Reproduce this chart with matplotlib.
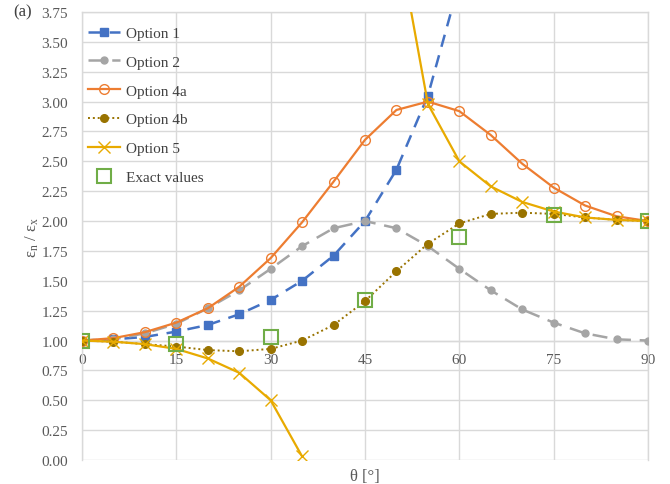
import numpy as np
import matplotlib
matplotlib.use("Agg")
import matplotlib.pyplot as plt

plt.rcParams['font.family'] = ['Liberation Serif', 'DejaVu Serif']
plt.rcParams['mathtext.fontset'] = 'custom'
plt.rcParams['mathtext.rm'] = 'Liberation Serif'
plt.rcParams['mathtext.it'] = 'Liberation Serif:italic'

theta = [0, 5, 10, 15, 20, 25, 30, 35, 40, 45, 50, 55, 60, 65, 70, 75, 80, 85, 90]
nan = np.nan

opt1 = [1.00, 1.01, 1.03, 1.075, 1.13, 1.22, 1.34, 1.50, 1.71, 2.00, 2.43, 3.05, 4.00,
        nan, nan, nan, nan, nan, nan]
opt2 = [1.00, 1.01, 1.06, 1.14, 1.27, 1.42, 1.60, 1.79, 1.94, 2.00, 1.94, 1.79, 1.60,
        1.42, 1.26, 1.15, 1.06, 1.01, 1.00]
opt4a = [1.00, 1.02, 1.07, 1.15, 1.27, 1.45, 1.69, 1.99, 2.33, 2.68, 2.93, 3.00, 2.92,
         2.72, 2.48, 2.28, 2.13, 2.04, 2.00]
opt4b = [1.00, 0.99, 0.97, 0.95, 0.92, 0.91, 0.93, 1.00, 1.13, 1.33, 1.58, 1.81, 1.98,
         2.06, 2.07, 2.06, 2.03, 2.01, 2.00]
opt5 = [1.00, 0.99, 0.97, 0.93, 0.85, 0.73, 0.50, 0.03, nan, nan, 4.43, 2.98, 2.50,
        2.29, 2.16, 2.08, 2.03, 2.01, 2.00]
exact_theta = [0, 15, 30, 45, 60, 75, 90]
exact = [1.00, 0.975, 1.03, 1.34, 1.865, 2.05, 2.00]

fig = plt.figure(figsize=(6.7, 4.85), dpi=100)
ax = fig.add_axes([82/670, 1-461/485, (648-82)/670, (461-13)/485])

grid_c = '#d9d9d9'
ax.plot(theta, opt1, color='#4472C4', lw=1.8, ls=(0, (5, 3.5)), marker='s', ms=6,
        label='Option 1', zorder=3)
ax.plot(theta, opt2, color='#A5A5A5', lw=1.8, ls=(0, (6, 3.5)), marker='o', ms=5,
        label='Option 2', zorder=3)
ax.plot(theta, opt4a, color='#ED7D31', lw=1.6, ls='-', marker='o', ms=7, mfc='none',
        mew=1.0, label='Option 4a', zorder=4)
ax.plot(theta, opt4b, color='#997300', lw=1.4, ls=(0, (1, 1.5)), marker='o', ms=5.5,
        label='Option 4b', zorder=4)
ax.plot(theta, opt5, color='#E8AA00', lw=1.6, ls='-', marker='x', ms=8, mew=1.0,
        label='Option 5', zorder=4)
ax.plot(exact_theta, exact, ls='none', marker='s', ms=10, mfc='none', mec='#70AD47',
        mew=1.5, label='Exact values', zorder=5)

ax.set_xlim(0, 90)
ax.set_ylim(0, 3.75)
ax.set_xticks(np.arange(0, 91, 15))
ax.set_yticks(np.arange(0, 3.76, 0.25))
ax.set_yticklabels([f"{v:.2f}" for v in np.arange(0, 3.76, 0.25)])
ax.grid(True, color=grid_c, lw=1.0)
ax.set_axisbelow(True)

for s in ['left', 'right', 'top']:
    ax.spines[s].set_color(grid_c)
    ax.spines[s].set_linewidth(1.0)
ax.spines['bottom'].set_position(('data', 1.0))
ax.spines['bottom'].set_color(grid_c)
ax.spines['bottom'].set_linewidth(1.0)
ax.tick_params(axis='both', length=0, labelsize=11, labelcolor='#595959')
ax.tick_params(axis='x', pad=9)
ax.tick_params(axis='y', pad=10)

ax.set_xlabel('θ [°]', fontsize=12, color='#595959')
ax.xaxis.set_label_coords(0.5, -0.018)
ax.set_ylabel('ε$_\\mathrm{n}$ / ε$_\\mathrm{x}$', fontsize=12, color='#595959')
ax.yaxis.set_label_coords(-0.072, 0.5)

fig.text(0.02, 0.99, '(a)', fontsize=12, color='#404040', va='top', ha='left')

leg = ax.legend(loc='upper left', bbox_to_anchor=(0.0, 0.982), frameon=False,
                fontsize=11, labelspacing=0.99, handlelength=2.1, handletextpad=0.35,
                borderaxespad=0.0)
for t in leg.get_texts():
    t.set_color('#404040')

fig.savefig('out.png', dpi=100)
